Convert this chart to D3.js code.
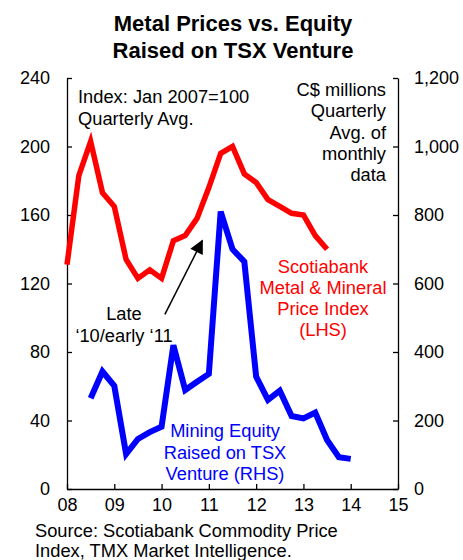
<!DOCTYPE html>
<html>
<head>
<meta charset="utf-8">
<script src="https://cdn.jsdelivr.net/npm/d3@7"></script>
<style>
  body { margin: 0; background: #fff; }
  svg { font-family: "Liberation Sans", Arial, sans-serif; }
  .axis path, .axis line { stroke: #000; stroke-width: 1.3; }
  .axis text { font-size: 18px; fill: #000; }
</style>
</head>
<body>
<div id="chart"></div>
<script>
// quarterly data, x in fractional years
var metalDates = [2008, 2008.25, 2008.5, 2008.75, 2009, 2009.25, 2009.5, 2009.75,
                  2010, 2010.25, 2010.5, 2010.75, 2011, 2011.25, 2011.5, 2011.75,
                  2012, 2012.25, 2012.5, 2012.75, 2013, 2013.25, 2013.5];
var metalIndex = [131, 183, 203, 173, 165, 134, 123, 128,
                  123, 145, 148, 158, 176, 196, 200, 184,
                  179, 169, 165, 161, 160, 148, 140];

var equityDates = [2008.5, 2008.75, 2009, 2009.25, 2009.5, 2009.75,
                   2010, 2010.25, 2010.5, 2010.75, 2011, 2011.25, 2011.5, 2011.75,
                   2012, 2012.25, 2012.5, 2012.75, 2013, 2013.25, 2013.5, 2013.75, 2014];
var equityRaised = [265, 343, 301, 102, 146, 166,
                    182, 420, 289, 313, 336, 810, 700, 664,
                    328, 260, 287, 213, 206, 223, 143, 93, 88];

var xTicks = [2008, 2009, 2010, 2011, 2012, 2013, 2014, 2015];
var leftTicks = [0, 40, 80, 120, 160, 200, 240];
var rightTicks = [0, 200, 400, 600, 800, 1000, 1200];

var W = 463, H = 560;
var margin = {top: 78, right: 65, bottom: 71, left: 67};
var plotW = W - margin.left - margin.right,
    plotH = H - margin.top - margin.bottom;

var svg = d3.select("#chart").append("svg")
    .attr("width", W)
    .attr("height", H);

var x = d3.scaleLinear().domain([2008, 2015]).range([margin.left, margin.left + plotW]);
var yL = d3.scaleLinear().domain([0, 240]).range([margin.top + plotH, margin.top]);
var yR = d3.scaleLinear().domain([0, 1200]).range([margin.top + plotH, margin.top]);

// title
svg.append("text")
    .attr("x", 233).attr("y", 31)
    .attr("text-anchor", "middle")
    .style("font-size", "22px").style("font-weight", "bold")
    .text("Metal Prices vs. Equity");
svg.append("text")
    .attr("x", 233).attr("y", 58)
    .attr("text-anchor", "middle")
    .style("font-size", "22px").style("font-weight", "bold")
    .text("Raised on TSX Venture");

// axes, ticks pointing inward
svg.append("g").attr("class", "axis")
    .attr("transform", "translate(0," + (margin.top + plotH) + ")")
    .call(d3.axisBottom(x).tickValues(xTicks).tickSizeInner(-5).tickSizeOuter(0).tickPadding(9)
        .tickFormat(function(d) { return String(d % 100).padStart(2, "0"); }));
svg.append("g").attr("class", "axis")
    .attr("transform", "translate(" + margin.left + ",0)")
    .call(d3.axisLeft(yL).tickValues(leftTicks).tickSizeInner(-5).tickSizeOuter(0).tickPadding(17));
svg.append("g").attr("class", "axis")
    .attr("transform", "translate(" + (margin.left + plotW) + ",0)")
    .call(d3.axisRight(yR).tickValues(rightTicks).tickSizeInner(-5).tickSizeOuter(0).tickPadding(16)
        .tickFormat(d3.format(",")));
svg.selectAll(".axis .domain").attr("stroke-width", 1.5);

// lines
var metalLine = d3.line()
    .x(function(d, i) { return x(metalDates[i]); })
    .y(function(d) { return yL(d); });
var equityLine = d3.line()
    .x(function(d, i) { return x(equityDates[i]); })
    .y(function(d) { return yR(d); });

svg.append("path")
    .datum(metalIndex)
    .attr("d", metalLine)
    .attr("fill", "none")
    .attr("stroke", "#ff0000")
    .attr("stroke-width", 5.5)
    .attr("stroke-linejoin", "miter");
svg.append("path")
    .datum(equityRaised)
    .attr("d", equityLine)
    .attr("fill", "none")
    .attr("stroke", "#0000ff")
    .attr("stroke-width", 6)
    .attr("stroke-linejoin", "miter");

// text blocks
function block(lines, xPos, y0, anchor, color, step) {
    var t = svg.append("text")
        .attr("text-anchor", anchor)
        .attr("fill", color)
        .style("font-size", "18.3px");
    lines.forEach(function(s, i) {
        t.append("tspan").attr("x", xPos).attr("y", y0 + i * step).text(s);
    });
}
block(["Index: Jan 2007=100", "Quarterly Avg."], 78, 103, "start", "#000", 22);
block(["C$ millions", "Quarterly", "Avg. of", "monthly", "data"], 386, 96, "end", "#000", 21.3);
block(["Scotiabank", "Metal & Mineral", "Price Index", "(LHS)"], 323, 273, "middle", "#ff0000", 21);
block(["Mining Equity", "Raised on TSX", "Venture (RHS)"], 225, 437, "middle", "#0000ff", 21.5);
block(["Late", "\u201810/early \u201811"], 124, 320, "middle", "#000", 21.5);

// arrow
svg.append("defs").append("marker")
    .attr("id", "head")
    .attr("viewBox", "0 0 10 10")
    .attr("refX", 9).attr("refY", 5)
    .attr("markerWidth", 16).attr("markerHeight", 14)
    .attr("markerUnits", "userSpaceOnUse")
    .attr("orient", "auto")
    .append("path").attr("d", "M0,0L10,5L0,10Z").attr("fill", "#000");
svg.append("line")
    .attr("x1", x(2010.07)).attr("y1", yL(102))
    .attr("x2", x(2010.86)).attr("y2", yL(145))
    .attr("stroke", "#000").attr("stroke-width", 1.5)
    .attr("marker-end", "url(#head)");

// source
block(["Source: Scotiabank Commodity Price", "Index, TMX Market Intelligence."], 35, 537, "start", "#000", 20);
</script>
</body>
</html>
